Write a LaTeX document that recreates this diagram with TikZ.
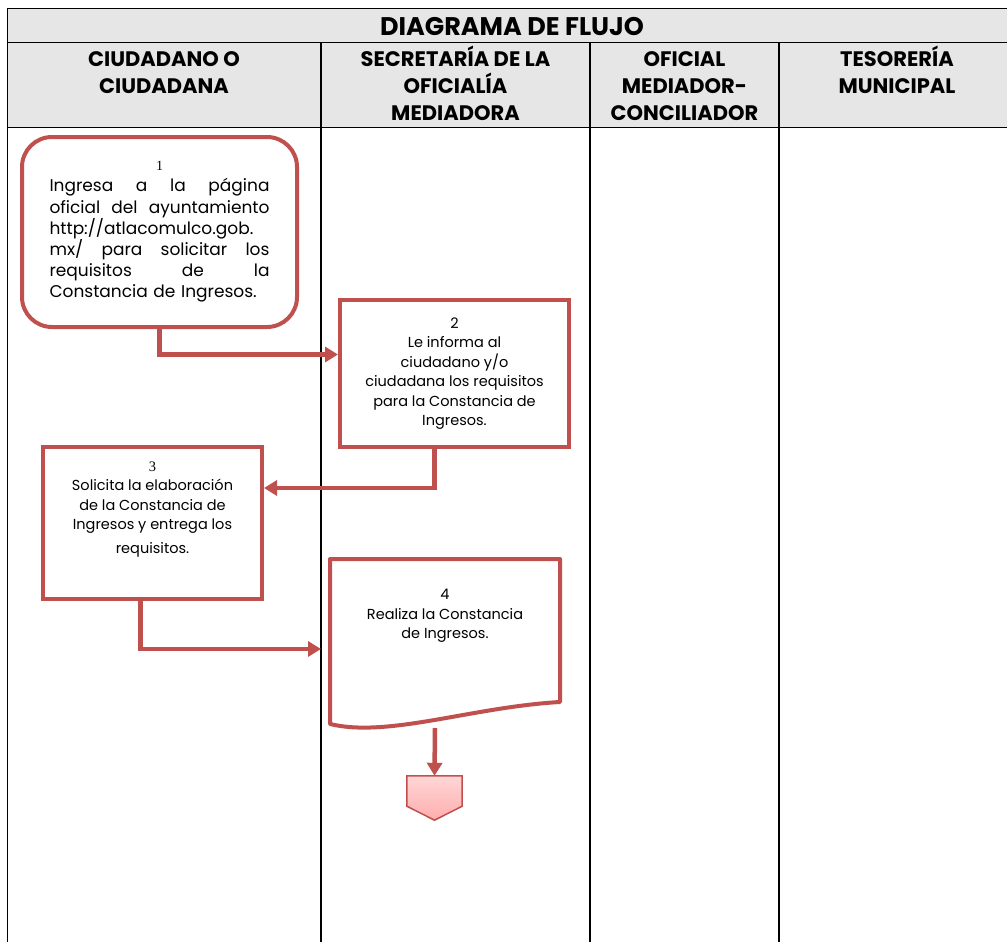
\documentclass[tikz,border=0pt]{standalone}
\usepackage{fontspec}
\setmainfont{Poppins}
\newfontfamily\numfont{Liberation Serif}
\usepackage{xcolor}
\usetikzlibrary{arrows.meta,positioning,calc}

\definecolor{rojo}{HTML}{C0504D}
\definecolor{encabezado}{HTML}{E6E6E6}
\newcommand{\lineajust}[1]{\makebox[220pt][s]{\spaceskip=0.3em plus 1fil\relax #1}}

\begin{document}
\begin{tikzpicture}[
    x=1pt, y=-1pt,
    >=Latex,
    flow/.style={draw=rojo, line width=4.5pt, -{Triangle[length=13pt,width=15pt]}},
    procbox/.style={draw=rojo, line width=4pt, fill=white, align=center, inner sep=0pt, font=\fontsize{14.5}{19.5}\selectfont},
    roundbox/.style={procbox, rounded corners=30pt, font=\fontsize{17}{21.2}\selectfont},
    encab/.style={font=\bfseries\fontsize{21}{27}\selectfont, align=center, anchor=north, inner sep=0pt},
    colline/.style={draw=black, line width=1pt}
]
\useasboundingbox (0,0) rectangle (1007,942);

% encabezado de la tabla
\fill[encabezado] (7,9) rectangle (1007,127);
\draw[colline] (1007,9) -- (7,9) -- (7,942);
\draw[colline] (7,43) -- (1007,43);
\draw[colline] (7,127) -- (1007,127);
\foreach \xc in {321,590,779}
    \draw[colline, line width=1.3pt] (\xc,43) -- (\xc,942);

\node[font=\bfseries\fontsize{25.5}{27}\selectfont] (titulo) at (512,27) {DIAGRAMA DE FLUJO};
\node[encab] (ciudadano) at (164,46) {\vphantom{Í}CIUDADANO O\\CIUDADANA};
\node[encab] (secretaria) at (455.5,46) {SECRETARÍA DE LA\\OFICIALÍA\\MEDIADORA};
\node[encab] (oficial) at (684.5,46) {\vphantom{Í}OFICIAL\\MEDIADOR-\\CONCILIADOR};
\node[encab] (tesoreria) at (897,46) {TESORERÍA\\MUNICIPAL};

% pasos
\node[roundbox, minimum width=275pt, minimum height=190pt, text width=220pt] (ingresa) at (159.5,232)
    {{\numfont\fontsize{14}{23}\selectfont 1}\\
     \lineajust{Ingresa a la página}\\
     \lineajust{oficial del ayuntamiento}\\
     \lineajust{http://atlacomulco.gob.}\\
     \lineajust{mx/ para solicitar los}\\
     \lineajust{requisitos de la}\\
     \makebox[220pt][l]{Constancia de Ingresos.}};
\node[procbox, minimum width=229pt, minimum height=147pt] (informa) at (454.5,373.5)
    {2\\Le informa al\\ciudadano y/o\\ciudadana los requisitos\\para la Constancia de\\Ingresos.};
\node[procbox, minimum width=219pt, minimum height=152pt, text depth=31pt] (solicita) at (152.5,523)
    {{\numfont 3}\\Solicita la elaboración\\de la Constancia de\\Ingresos y entrega los\\[4pt]requisitos.};
\node[procbox, draw=none, fill=none, minimum width=226pt, minimum height=139pt, text depth=33pt] (realiza) at (445,630.5)
    {4\\Realiza la Constancia\\de Ingresos.};
\draw[rojo, line width=4pt, line join=round] (realiza.north west) -- (realiza.north east) -- (realiza.south east)
    .. controls ($(realiza.south east)+(-88,5)$) and ($(realiza.south west)+(58,36)$) .. ($(realiza.south west)+(0,22)$) -- cycle;
\coordinate (realiza-fondo) at ($(realiza.south)+(-10,26)$);

% conector fuera de pagina
\node[minimum width=55pt, minimum height=44pt, inner sep=0pt] (conector) at (434.5,798) {};
\draw[draw=rojo, line width=1.5pt, top color=red!16, bottom color=red!32] (conector.north west) -- (conector.north east)
    -- ($(conector.south east)+(0,-14)$) -- (conector.south) -- ($(conector.south west)+(0,-14)$) -- cycle;

% flechas
\draw[flow] (ingresa.south) |- ([yshift=19pt]informa.west);
\draw[flow] ([xshift=-20pt]informa.south) |- ([yshift=35pt]solicita.east);
\draw[flow, shorten >=9pt] ([xshift=-12pt]solicita.south) |- ([yshift=-18.5pt]realiza.west);
\draw[flow] (realiza-fondo) -- (conector.north);
\end{tikzpicture}
\end{document}
